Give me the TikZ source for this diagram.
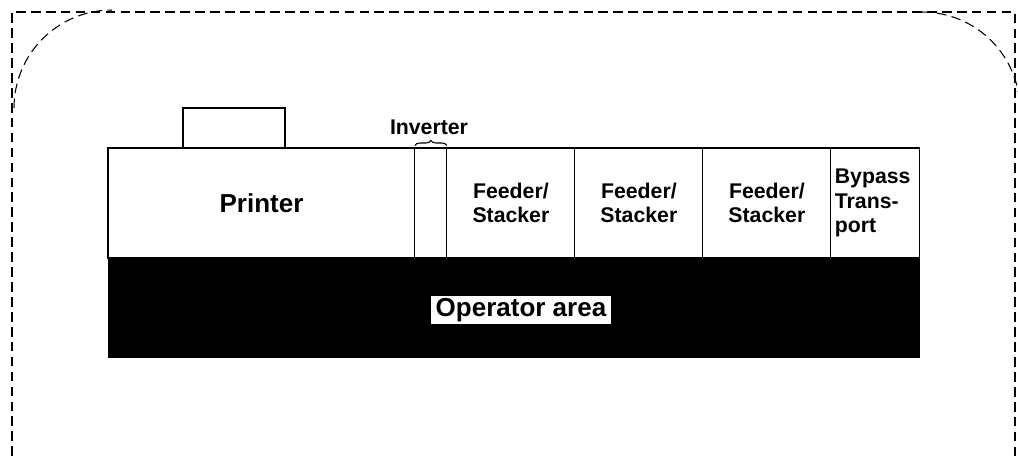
\documentclass[tikz,border=0pt]{standalone}
\usepackage{fontspec}
\setmainfont{Liberation Sans}
\usetikzlibrary{positioning,decorations.pathreplacing}

\begin{document}
\begin{tikzpicture}[
    x=0.02cm,y=-0.02cm,
    node distance=0cm,
    unit/.style={rectangle,draw=black,line width=0.6pt,outer sep=0pt,inner sep=0pt,minimum width=#1,minimum height=2.2cm,font=\fontsize{12.1}{14}\selectfont\bfseries,align=center},
    big/.style={font=\fontsize{14.8}{17}\selectfont\bfseries},
    fence/.style={line width=0.6pt,dash pattern=on 5.5pt off 3pt}
]
\useasboundingbox (0,0) rectangle (1018,456);

% machine row
\node[unit=6.14cm,big,anchor=north west] (printer) at (108,148) {Printer};
\node[unit=0.64cm,right=of printer] (inverter) {};
\node[unit=2.56cm,right=of inverter] (fs1) {Feeder/\\Stacker};
\node[unit=2.56cm,right=of fs1] (fs2) {Feeder/\\Stacker};
\node[unit=2.56cm,right=of fs2] (fs3) {Feeder/\\Stacker};
\node[unit=1.78cm,right=of fs3,align=left,text width=1.62cm] (bypass) {Bypass\\Trans-\\port};
\node[rectangle,draw=black,line width=0.6pt,outer sep=0pt,minimum width=2.04cm,minimum height=0.8cm,anchor=south west] (panel) at (183,148) {};

% operator area
\node[rectangle,fill=black,outer sep=0pt,minimum width=16.24cm,minimum height=2cm,anchor=north west] (operator) at (printer.south west) {};
\node[fill=white,inner xsep=2.5pt,inner ysep=1.5pt,big] (oplabel) at (521,310) {Operator area};

% inverter label
\draw[line width=0.6pt,decorate,decoration={brace,amplitude=0.1cm}] ([yshift=0.05cm]inverter.north west) -- ([yshift=0.05cm]inverter.north east);
\node[font=\fontsize{12.1}{14}\selectfont\bfseries] (invlabel) at (429,127) {Inverter};

% safety zone
\draw[fence] (12,456) -- (12,12) -- (1015,12) -- (1015,456);
\draw[fence] (14,108) arc[start angle=180,end angle=90,radius=1.96cm];
\draw[fence] (922,12) arc[start angle=90,end angle=0,radius=1.96cm];
\end{tikzpicture}
\end{document}
